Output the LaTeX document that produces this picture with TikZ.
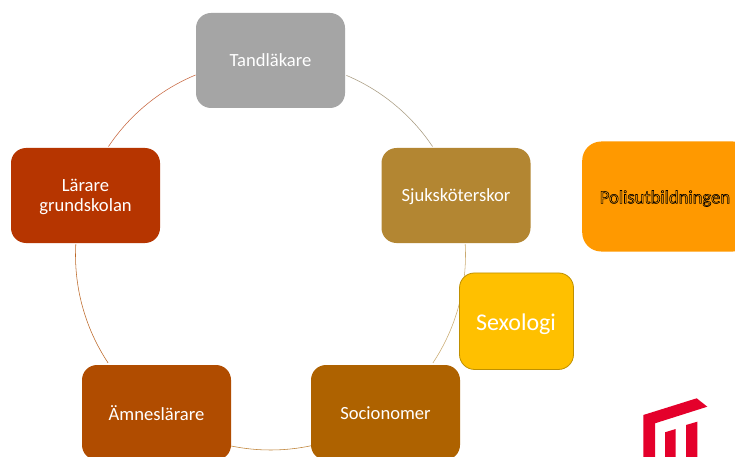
\documentclass[tikz,border=0pt]{standalone}
\usepackage{fontspec}
\setmainfont{Carlito}
\definecolor{cGrey}{HTML}{A5A5A5}
\definecolor{cGold}{HTML}{B38632}
\definecolor{cSoc}{HTML}{AE6200}
\definecolor{cAmn}{HTML}{B04C00}
\definecolor{cLar}{HTML}{B63500}
\definecolor{cSex}{HTML}{FFC000}
\definecolor{cSexB}{HTML}{BF9000}
\definecolor{cPol}{HTML}{FF9900}
\definecolor{cLogo}{HTML}{E4002B}
\newcommand{\outlined}[1]{\special{pdf:code q 1 Tr 0.6 w 0 0 0 RG}#1\special{pdf:code Q}}
\tikzset{
  box/.style={rounded corners=15pt,minimum width=149pt,minimum height=95pt,inner sep=0pt,
    text=white,align=center,font=\fontsize{18.6}{20.5}\selectfont},
  label/.style={text=white,inner sep=0pt,align=center,font=\fontsize{18.6}{20.5}\selectfont},
  ring/.style={line width=0.55pt}
}
\begin{document}
\begin{tikzpicture}[x=1pt,y=-1pt]
\clip (0,0) rectangle (735,457);
\fill[white] (0,0) rectangle (735,457);
\coordinate (ctr) at (270.5,255);
\def\R{195}
% ring segments
\coordinate (a1) at ([shift={(67.1:\R pt)}]ctr);
\coordinate (a2) at ([shift={(3.2:\R pt)}]ctr);
\coordinate (a3) at ([shift={(-78:\R pt)}]ctr);
\coordinate (a4) at ([shift={(-146.4:\R pt)}]ctr);
\coordinate (a5) at ([shift={(146.2:\R pt)}]ctr);
\draw[ring,color=cGrey!70!cGold] (a1) arc[start angle=67.1,end angle=33.8,radius=\R pt];
\draw[ring,color=cGold!70!white] (a2) arc[start angle=3.2,end angle=-33.6,radius=\R pt];
\draw[ring,color=cSoc!80!white] (a3) arc[start angle=-78,end angle=-101.7,radius=\R pt];
\draw[ring,color=cAmn!85!white] (a4) arc[start angle=-146.4,end angle=-183.2,radius=\R pt];
\draw[ring,color=cLar!75!white] (a5) arc[start angle=146.2,end angle=112.6,radius=\R pt];
% boxes
\node[box,fill=cGrey] (tand) at (270.5,60.5) {Tandläkare};
\node[box,fill=cGold] (sjuk) at (456,195.5) {};
\node[label] (sjukt) at (456,196.5) {Sjuksköterskor};
\node[box,fill=cSoc] (soc) at (385.5,412.5) {};
\node[label] (soct) at (385.5,413.5) {Socionomer};
\node[box,fill=cAmn] (amn) at (156.5,412.5) {};
\node[label] (amnt) at (156.5,413) {Ämneslärare};
\node[box,fill=cLar] (lar) at (85.5,195.5) {};
\node[label] (lart) at (85.5,197) {Lärare\\grundskolan};
\node[box,fill=cSex,draw=cSexB,line width=0.8pt,minimum width=114pt,minimum height=96.5pt] (sex) at (516.5,321.2) {};
\node[text=white,inner sep=0pt,font=\fontsize{24}{28}\selectfont] (sext) at (516,324) {Sexologi};
\node[box,fill=cPol,rounded corners=19pt,minimum width=170pt,minimum height=110pt,anchor=west] (pol) at (582,196.5) {};
\node[text=black,font=\fontsize{18.6}{20}\selectfont,inner sep=0pt] (polt) at (665,198.5) {\outlined{Polisutbildningen}};
% logo
\fill[cLogo] (643.3,415) -- (696.7,398.3) -- (707.3,406.7) -- (655,423.3) -- (655,457) -- (643.3,457) -- cycle;
\fill[cLogo] (665,432.3) -- (675.7,429) -- (675.7,457) -- (665,457) -- cycle;
\fill[cLogo] (686,425) -- (697.3,421.7) -- (697.3,457) -- (686,457) -- cycle;
\end{tikzpicture}
\end{document}
